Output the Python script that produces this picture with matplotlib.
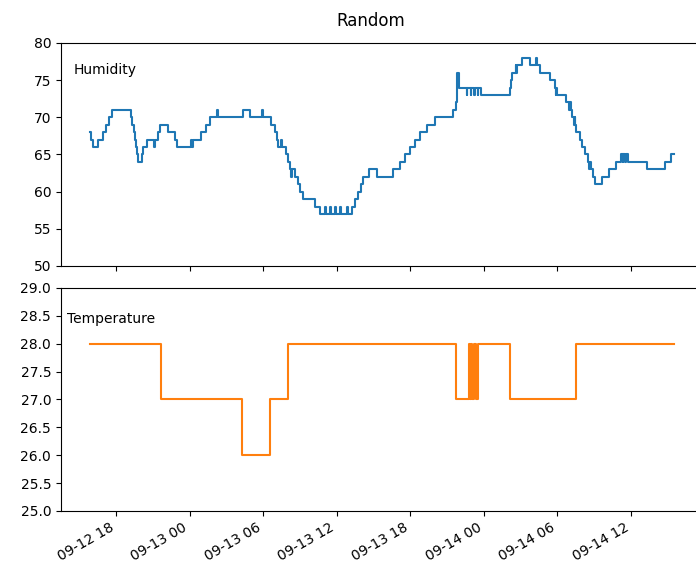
import matplotlib
matplotlib.use("Agg")
import matplotlib.pyplot as plt
import matplotlib.dates as mdates
import pandas as pd

# Humidity readings (change points of a step series)
hum_times = [
    "2023-09-12 15:53", "2023-09-12 15:58", "2023-09-12 16:07", "2023-09-12 16:32",
    "2023-09-12 16:56", "2023-09-12 17:11", "2023-09-12 17:26", "2023-09-12 17:40",
    "2023-09-12 19:11", "2023-09-12 19:18", "2023-09-12 19:26", "2023-09-12 19:33",
    "2023-09-12 19:38", "2023-09-12 19:43", "2023-09-12 19:48", "2023-09-12 20:07",
    "2023-09-12 20:14", "2023-09-12 20:29", "2023-09-12 21:06", "2023-09-12 21:09",
    "2023-09-12 21:25", "2023-09-12 21:35", "2023-09-12 22:12", "2023-09-12 22:48",
    "2023-09-12 22:58", "2023-09-13 00:09", "2023-09-13 00:12", "2023-09-13 00:16",
    "2023-09-13 00:58", "2023-09-13 01:20", "2023-09-13 01:42", "2023-09-13 02:14",
    "2023-09-13 02:19", "2023-09-13 04:21", "2023-09-13 04:58", "2023-09-13 05:52",
    "2023-09-13 05:57", "2023-09-13 06:40", "2023-09-13 06:57", "2023-09-13 07:07",
    "2023-09-13 07:15", "2023-09-13 07:29", "2023-09-13 07:33", "2023-09-13 07:51",
    "2023-09-13 08:01", "2023-09-13 08:11", "2023-09-13 08:16", "2023-09-13 08:19",
    "2023-09-13 08:35", "2023-09-13 08:52", "2023-09-13 09:00", "2023-09-13 09:14",
    "2023-09-13 10:13", "2023-09-13 10:38", "2023-09-13 11:02", "2023-09-13 11:06",
    "2023-09-13 11:26", "2023-09-13 11:30", "2023-09-13 11:51", "2023-09-13 11:55",
    "2023-09-13 12:15", "2023-09-13 12:19", "2023-09-13 12:50", "2023-09-13 12:54",
    "2023-09-13 13:14", "2023-09-13 13:29", "2023-09-13 13:43", "2023-09-13 13:58",
    "2023-09-13 14:08", "2023-09-13 14:37", "2023-09-13 15:16", "2023-09-13 16:34",
    "2023-09-13 17:09", "2023-09-13 17:33", "2023-09-13 17:58", "2023-09-13 18:22",
    "2023-09-13 18:47", "2023-09-13 19:21", "2023-09-13 20:00", "2023-09-13 21:28",
    "2023-09-13 21:43", "2023-09-13 21:50", "2023-09-13 21:57", "2023-09-13 22:36",
    "2023-09-13 22:40", "2023-09-13 22:56", "2023-09-13 23:00", "2023-09-13 23:11",
    "2023-09-13 23:15", "2023-09-13 23:30", "2023-09-13 23:34", "2023-09-13 23:45",
    "2023-09-14 02:07", "2023-09-14 02:12", "2023-09-14 02:16", "2023-09-14 02:36",
    "2023-09-14 02:39", "2023-09-14 02:41", "2023-09-14 03:05", "2023-09-14 03:44",
    "2023-09-14 04:16", "2023-09-14 04:20", "2023-09-14 04:33", "2023-09-14 05:22",
    "2023-09-14 05:47", "2023-09-14 05:52", "2023-09-14 05:55", "2023-09-14 05:59",
    "2023-09-14 06:45", "2023-09-14 06:58", "2023-09-14 07:03", "2023-09-14 07:06",
    "2023-09-14 07:10", "2023-09-14 07:20", "2023-09-14 07:25", "2023-09-14 07:28",
    "2023-09-14 07:34", "2023-09-14 07:49", "2023-09-14 07:59", "2023-09-14 08:18",
    "2023-09-14 08:31", "2023-09-14 08:36", "2023-09-14 08:39", "2023-09-14 08:45",
    "2023-09-14 08:57", "2023-09-14 09:07", "2023-09-14 09:41", "2023-09-14 10:11",
    "2023-09-14 10:47", "2023-09-14 11:12", "2023-09-14 11:20", "2023-09-14 11:24",
    "2023-09-14 11:32", "2023-09-14 11:36", "2023-09-14 11:44", "2023-09-14 13:17",
    "2023-09-14 14:45", "2023-09-14 15:19", "2023-09-14 15:29",
]
hum_values = [
    68, 67, 66, 67, 68, 69, 70, 71,
    70, 69, 68, 67, 66, 65, 64, 65,
    66, 67, 66, 67, 68, 69, 68, 67,
    66, 67, 66, 67, 68, 69, 70, 71,
    70, 71, 70, 71, 70, 69, 68, 67,
    66, 67, 66, 65, 64, 63, 62, 63,
    62, 61, 60, 59, 58, 57, 58, 57,
    58, 57, 58, 57, 58, 57, 58, 57,
    58, 59, 60, 61, 62, 63, 62, 63,
    64, 65, 66, 67, 68, 69, 70, 71,
    72, 76, 74, 73, 74, 73, 74, 73,
    74, 73, 74, 73, 74, 75, 76, 77,
    76, 77, 78, 77, 78, 77, 76, 75,
    74, 73, 74, 73, 72, 71, 72, 71,
    70, 69, 70, 69, 68, 67, 66, 65,
    64, 63, 64, 63, 62, 61, 62, 63,
    64, 65, 64, 65, 64, 65, 64, 63,
    64, 65, 65,
]

# Temperature readings (change points of a step series)
temp_times = [
    "2023-09-12 15:53", "2023-09-12 21:40", "2023-09-13 04:16", "2023-09-13 06:33",
    "2023-09-13 08:01", "2023-09-13 21:43", "2023-09-13 22:46", "2023-09-13 22:52",
    "2023-09-13 22:57", "2023-09-13 23:03", "2023-09-13 23:10", "2023-09-13 23:22",
    "2023-09-13 23:33", "2023-09-13 23:47", "2023-09-14 02:07", "2023-09-14 07:34",
    "2023-09-14 15:29",
]
temp_values = [
    28, 27, 26, 27,
    28, 27, 28, 27,
    28, 27, 28, 27,
    28, 28, 27, 28,
    28,
]

hum_t = pd.to_datetime(hum_times)
temp_t = pd.to_datetime(temp_times)

fig = plt.figure(figsize=(6.96, 5.64), dpi=100)
ax1 = fig.add_axes([0.0876, 0.5284, 0.922, 0.3954])
ax2 = fig.add_axes([0.0876, 0.0940, 0.922, 0.3954], sharex=ax1)

ax1.plot(hum_t, hum_values, color="C0", drawstyle="steps-post", lw=1.5)
ax2.plot(temp_t, temp_values, color="C1", drawstyle="steps-post", lw=1.5)

ax1.set_ylim(50, 80)
ax1.set_yticks(range(50, 81, 5))
ax2.set_ylim(25.0, 29.0)
ax2.set_yticks([25.0, 25.5, 26.0, 26.5, 27.0, 27.5, 28.0, 28.5, 29.0])

ax1.text(0.019, 0.879, "Humidity", transform=ax1.transAxes, va="center", ha="left")
ax2.text(0.009, 0.861, "Temperature", transform=ax2.transAxes, va="center", ha="left")

ax2.xaxis.set_major_locator(mdates.HourLocator(byhour=[0, 6, 12, 18]))
ax2.xaxis.set_major_formatter(mdates.DateFormatter("%m-%d %H"))
plt.setp(ax1.get_xticklabels(), visible=False)
for lab in ax2.get_xticklabels():
    lab.set_rotation(30)
    lab.set_ha("right")

fig.text(0.533, 0.963, "Random", ha="center", va="center", fontsize=12)

fig.savefig("out.png", dpi=100)
